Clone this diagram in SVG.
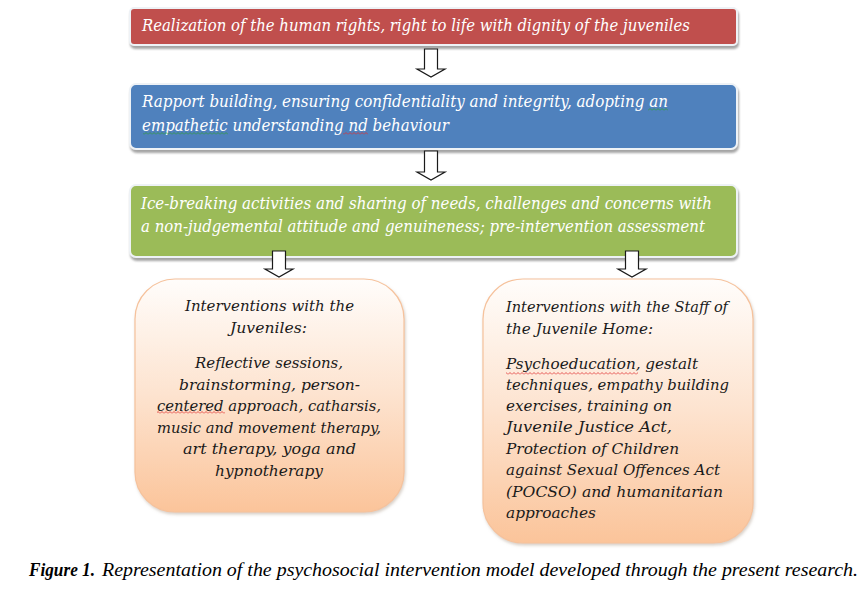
<svg xmlns="http://www.w3.org/2000/svg" width="868" height="593" viewBox="0 0 868 593">
<defs>
  <filter id="sh" x="-5%" y="-20%" width="110%" height="150%">
    <feDropShadow dx="1" dy="3" stdDeviation="1.2" flood-color="#7f7f7f" flood-opacity="0.7"/>
  </filter>
  <filter id="sh2" x="-5%" y="-5%" width="110%" height="112%">
    <feDropShadow dx="1" dy="2" stdDeviation="1.5" flood-color="#b0a090" flood-opacity="0.5"/>
  </filter>
  <linearGradient id="peach" x1="0" y1="0" x2="0" y2="1">
    <stop offset="0" stop-color="#fffdfb"/>
    <stop offset="0.5" stop-color="#fde3cf"/>
    <stop offset="1" stop-color="#fbc49a"/>
  </linearGradient>
  <pattern id="wavyR" width="4" height="3" patternUnits="userSpaceOnUse">
    <path d="M0,2.5 L2,0.5 L4,2.5" fill="none" stroke="#e03030" stroke-width="0.8"/>
  </pattern>
  <pattern id="wavyG" width="4" height="3" patternUnits="userSpaceOnUse">
    <path d="M0,2.5 L2,0.5 L4,2.5" fill="none" stroke="#2f9a3a" stroke-width="0.8"/>
  </pattern>
</defs>
<style>
  .bar { stroke: #eef2f6; stroke-width: 2; filter: url(#sh); }
  .soft { fill: url(#peach); stroke: #f6c29c; stroke-width: 1.2; filter: url(#sh2); }
  .wt { font-family: "DejaVu Serif", "Liberation Serif", serif; font-style: italic; font-size: 16px; fill: #ffffff; }
  .bt { font-family: "DejaVu Serif", "Liberation Serif", serif; font-style: italic; font-size: 15.5px; fill: #1a1a1a; }
  .cap { font-family: "Liberation Serif", "DejaVu Serif", serif; font-style: italic; font-size: 18px; fill: #000000; }
  .arrow { fill: #ffffff; stroke: #1a1a1a; stroke-width: 1.2; stroke-linejoin: miter; }
</style>
<rect width="868" height="593" fill="#ffffff"/>

<g id="node-rights">
  <rect class="bar" x="130" y="8" width="607" height="37" rx="4" fill="#c0504d"/>
  <text class="wt" x="142" y="31" textLength="548" lengthAdjust="spacingAndGlyphs">Realization of the human rights, right to life with dignity of the juveniles</text>
</g>

<g id="node-rapport">
  <rect class="bar" x="130" y="84" width="607" height="65" rx="6" fill="#4f81bd"/>
  <text class="wt" x="142" y="107" textLength="526" lengthAdjust="spacingAndGlyphs">Rapport building, ensuring confidentiality and integrity, adopting an</text>
  <text class="wt" x="142" y="131" textLength="307" lengthAdjust="spacingAndGlyphs">empathetic understanding nd behaviour</text>
  <rect x="648" y="108" width="20" height="3" fill="url(#wavyG)"/>
  <rect x="143" y="132" width="85" height="3" fill="url(#wavyG)"/>
  <rect x="343" y="132" width="25" height="3" fill="url(#wavyR)"/>
</g>

<g id="node-icebreaking">
  <rect class="bar" x="130" y="185" width="607" height="72" rx="6" fill="#9bbb59"/>
  <text class="wt" x="141" y="209" textLength="571" lengthAdjust="spacingAndGlyphs">Ice-breaking activities and sharing of needs, challenges and concerns with</text>
  <text class="wt" x="141" y="232" textLength="564" lengthAdjust="spacingAndGlyphs">a non-judgemental attitude and genuineness; pre-intervention assessment</text>
</g>

<g id="node-juveniles">
  <rect class="soft" x="135" y="279" width="269" height="233" rx="40"/>
  <text class="bt" x="269.5" y="311" text-anchor="middle" textLength="169" lengthAdjust="spacingAndGlyphs">Interventions with the</text>
  <text class="bt" x="268.5" y="333" text-anchor="middle" textLength="77" lengthAdjust="spacingAndGlyphs">Juveniles:</text>
  <text class="bt" x="269" y="368" text-anchor="middle" textLength="148" lengthAdjust="spacingAndGlyphs">Reflective sessions,</text>
  <text class="bt" x="269.5" y="389.5" text-anchor="middle" textLength="181" lengthAdjust="spacingAndGlyphs">brainstorming, person-</text>
  <text class="bt" x="269" y="411" text-anchor="middle" textLength="224" lengthAdjust="spacingAndGlyphs">centered approach, catharsis,</text>
  <text class="bt" x="269" y="432.5" text-anchor="middle" textLength="224" lengthAdjust="spacingAndGlyphs">music and movement therapy,</text>
  <text class="bt" x="269.5" y="454" text-anchor="middle" textLength="173" lengthAdjust="spacingAndGlyphs">art therapy, yoga and</text>
  <text class="bt" x="269" y="475.5" text-anchor="middle" textLength="108" lengthAdjust="spacingAndGlyphs">hypnotherapy</text>
  <rect x="157" y="411" width="68" height="3" fill="url(#wavyR)"/>
</g>

<g id="node-staff">
  <rect class="soft" x="483" y="279" width="270" height="264" rx="40"/>
  <text class="bt" x="506" y="312" textLength="222" lengthAdjust="spacingAndGlyphs">Interventions with the Staff of</text>
  <text class="bt" x="506" y="334" textLength="147" lengthAdjust="spacingAndGlyphs">the Juvenile Home:</text>
  <text class="bt" x="506" y="369" textLength="192" lengthAdjust="spacingAndGlyphs">Psychoeducation, gestalt</text>
  <text class="bt" x="506" y="389.5" textLength="223" lengthAdjust="spacingAndGlyphs">techniques, empathy building</text>
  <text class="bt" x="506" y="410.5" textLength="166" lengthAdjust="spacingAndGlyphs">exercises, training on</text>
  <text class="bt" x="506" y="432" textLength="166" lengthAdjust="spacingAndGlyphs">Juvenile Justice Act,</text>
  <text class="bt" x="506" y="453.5" textLength="173" lengthAdjust="spacingAndGlyphs">Protection of Children</text>
  <text class="bt" x="506" y="475" textLength="214" lengthAdjust="spacingAndGlyphs">against Sexual Offences Act</text>
  <text class="bt" x="506" y="496.5" textLength="217" lengthAdjust="spacingAndGlyphs">(POCSO) and humanitarian</text>
  <text class="bt" x="506" y="517.5" textLength="90" lengthAdjust="spacingAndGlyphs">approaches</text>
  <rect x="506" y="372" width="132" height="3" fill="url(#wavyR)"/>
</g>

<g id="connectors">
  <path class="arrow" d="M424.5,49 H437.5 V69 H445 L431,77 L417,69 H424.5 Z"/>
  <path class="arrow" d="M424.5,151 H437.5 V172 H445 L431,180 L417,172 H424.5 Z"/>
  <path class="arrow" d="M272.5,251 H285.5 V269 H293 L279,277 L265,269 H272.5 Z"/>
  <path class="arrow" d="M625.5,251 H638.5 V269 H646 L632,277 L618,269 H625.5 Z"/>
</g>

<g id="caption">
  <text class="cap" x="29" y="576" font-weight="bold" textLength="66" lengthAdjust="spacingAndGlyphs">Figure 1.</text>
  <text class="cap" x="102" y="576" textLength="756" lengthAdjust="spacingAndGlyphs">Representation of the psychosocial intervention model developed through the present research.</text>
</g>
</svg>
